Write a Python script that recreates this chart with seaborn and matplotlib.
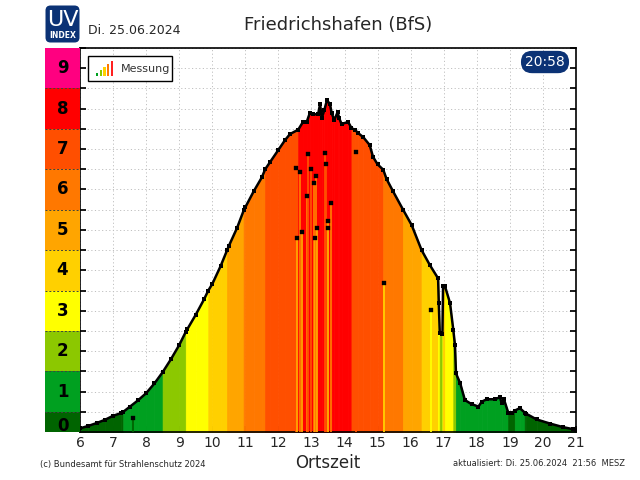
import numpy as np
import matplotlib
matplotlib.use("Agg")
import matplotlib.pyplot as plt
import seaborn as sns
from matplotlib.patches import FancyBboxPatch, Rectangle

# ---------------------------------------------------------------------------
# Daten
# ---------------------------------------------------------------------------
times = [6.0, 6.25, 6.5, 6.75, 7.0, 7.25, 7.31, 7.5, 7.75, 8.0, 8.25, 8.5, 8.75,
         9.0, 9.2, 9.25, 9.5, 9.75, 9.88, 10.0, 10.25, 10.45, 10.5, 10.75, 10.95,
         11.0, 11.25, 11.5, 11.6, 11.75, 12.0, 12.2, 12.35, 12.6, 12.75, 12.86,
         12.95, 13.05, 13.2, 13.26, 13.31, 13.39, 13.47, 13.56, 13.61, 13.69,
         13.79, 13.84, 13.91, 14.11, 14.21, 14.32, 14.42, 14.57, 14.76, 14.86,
         15.0, 15.17, 15.27, 15.47, 15.77, 16.03, 16.33, 16.58, 16.83, 16.85,
         16.88, 16.96, 16.98, 17.04, 17.19, 17.29, 17.34, 17.37, 17.5, 17.64,
         17.84, 18.05, 18.15, 18.3, 18.55, 18.7, 18.75, 18.82, 18.95, 19.05,
         19.15, 19.3, 19.45, 19.5, 19.81, 20.21, 20.61, 20.91, 21.0]
uv = [0.09, 0.15, 0.22, 0.30, 0.40, 0.47, 0.50, 0.62, 0.78, 0.96, 1.20, 1.48, 1.80,
      2.15, 2.48, 2.55, 2.90, 3.28, 3.50, 3.66, 4.10, 4.50, 4.60, 5.05, 5.48,
      5.56, 5.95, 6.30, 6.50, 6.68, 6.98, 7.22, 7.37, 7.48, 7.68, 7.68,
      7.89, 7.86, 7.86, 8.11, 7.76, 7.97, 8.21, 8.11, 7.89, 7.72,
      7.91, 7.76, 7.62, 7.67, 7.52, 7.47, 7.39, 7.29, 7.10, 6.81,
      6.62, 6.49, 6.26, 5.95, 5.50, 5.12, 4.50, 4.13, 3.80, 3.19,
      2.45, 2.42, 3.62, 3.60, 3.19, 2.52, 2.15, 1.45, 1.20, 0.79,
      0.69, 0.63, 0.75, 0.81, 0.81, 0.86, 0.72, 0.81, 0.48, 0.46,
      0.53, 0.59, 0.48, 0.45, 0.31, 0.21, 0.12, 0.07, 0.06]

# Einzelne Ausreisser (Messungen unterhalb der Kurve)
dip_times = [7.61, 12.53, 12.55, 12.65, 12.70, 12.88, 12.90, 12.99, 13.08, 13.11,
             13.14, 13.16, 13.41, 13.43, 13.49, 13.51, 13.58, 14.34, 15.18, 16.62]
dip_uv = [0.35, 6.53, 4.79, 6.43, 4.96, 5.84, 6.87, 6.51, 6.16, 4.79,
          6.34, 5.04, 6.90, 6.63, 5.23, 5.04, 5.66, 6.92, 3.68, 3.02]

uv_levels = list(range(10))
uv_colors = ["#006400", "#00a020", "#8cc800", "#ffff00", "#ffd000",
             "#ffa500", "#ff7800", "#ff4f00", "#ff0000", "#ff0080"]

hours = list(range(6, 22))
icon_heights = [1, 2, 3, 4, 5]
icon_colors = ["#00a020", "#8cc800", "#ffd000", "#ff7800", "#ff2020"]


def uv_color(value):
    k = int(np.clip(np.floor(value + 0.5), 0, 9))
    return uv_colors[k]


# ---------------------------------------------------------------------------
# Figur
# ---------------------------------------------------------------------------
sns.set_theme(style="white")
plt.rcParams["font.family"] = ["DejaVu Sans"]

fig = plt.figure(figsize=(6.4, 4.8), dpi=100)
ax = fig.add_axes([80 / 640, 48 / 480, 496 / 640, 384 / 480])
cax = fig.add_axes([45 / 640, 48 / 480, 35 / 640, 384 / 480])

# Farbige Flaeche unter der Kurve
t = np.array(times)
v = np.array(uv)
for i in range(len(t) - 1):
    col = uv_color((v[i] + v[i + 1]) / 2)
    ax.fill_between(t[i:i + 2], 0, v[i:i + 2], color=col, lw=0.6, edgecolor=col, zorder=2)

# Ausreisser
ax.vlines(dip_times, 0, dip_uv, colors=[uv_color(d) for d in dip_uv], lw=1.3, zorder=3)
sns.scatterplot(x=dip_times, y=dip_uv, marker="s", color="black", s=9,
                edgecolor=None, ax=ax, zorder=5)

# Messkurve
sns.lineplot(x=times, y=uv, color="black", lw=1.8, marker="s", markersize=3,
             markeredgewidth=0, sort=False, ax=ax, zorder=6)

ax.set_xlim(6, 21)
ax.set_ylim(0, 9.5)
ax.set_xticks(hours)
ax.set_xticklabels([str(h) for h in hours], fontsize=10)
ax.set_yticks(np.arange(0, 9.51, 0.5))
ax.set_yticklabels([])
ax.set_axisbelow(True)
ax.grid(True, color="#c0c0c0", linestyle=(0, (1.2, 2.5)), lw=0.7, zorder=0)
ax.tick_params(axis="both", direction="in", length=4, color="black",
               right=True, left=True, bottom=True, pad=3)
for s in ax.spines.values():
    s.set_color("black")
    s.set_linewidth(1.2)
ax.set_xlabel("Ortszeit", fontsize=12, labelpad=3)
ax.set_ylabel("")

# Farbskala links
bottoms = [0] + [k - 0.5 for k in uv_levels[1:]]
heights = [0.5] + [1.0] * (len(uv_levels) - 1)
cax.bar([0] * len(uv_levels), heights, bottom=bottoms, width=1, color=uv_colors, lw=0)
for k in uv_levels[1:]:
    cax.axhline(k - 0.5, color="#404040", lw=0.7, ls=(0, (2, 2)))
for k in uv_levels:
    cax.text(0, k if k > 0 else 0.15, str(k), ha="center", va="center",
             fontsize=12, fontweight="bold", color="black")
cax.set_xlim(-0.5, 0.5)
cax.set_ylim(0, 9.5)
cax.axis("off")

# Legende "Messung"
ax.add_patch(Rectangle((0.0161, 0.914), 0.1694, 0.065, transform=ax.transAxes,
                       fc="white", ec="black", lw=1, zorder=8))
ax.text(0.083, 0.9465, "Messung", transform=ax.transAxes, fontsize=8,
        va="center", ha="left", color="#333333", zorder=9)
iax = fig.add_axes([95 / 640, 1 - 76 / 480, 19 / 640, 15 / 480])
iax.bar(range(len(icon_heights)), icon_heights, width=0.6, color=icon_colors, lw=0)
iax.set_xlim(-0.5, len(icon_heights) - 0.5)
iax.set_ylim(0, max(icon_heights))
iax.axis("off")

# Uhrzeit-Badge
ax.text(0.9375, 0.9635, "20:58", transform=ax.transAxes, fontsize=10,
        color="white", ha="center", va="center", zorder=9,
        bbox=dict(boxstyle="round,pad=0.3,rounding_size=0.8", fc="#0b3275", ec="none"))

# UV-Index Logo
lax = fig.add_axes([45 / 640, 1 - 43 / 480, 35 / 640, 38 / 480])
lax.set_xlim(0, 35)
lax.set_ylim(0, 38)
lax.add_patch(FancyBboxPatch((0.5, 0.5), 34, 37, boxstyle="round,pad=0,rounding_size=5",
                             fc="#0b3275", ec="none"))
lax.text(17.5, 23, "UV", color="white", fontsize=16, ha="center", va="center")
lax.text(17.5, 7, "INDEX", color="white", fontsize=5.5, fontweight="bold",
         ha="center", va="center")
lax.axis("off")

# Texte
fig.text(338 / 640, 1 - 25 / 480, "Friedrichshafen (BfS)", fontsize=13,
         ha="center", va="center")
fig.text(88 / 640, 1 - 31 / 480, "Di. 25.06.2024", fontsize=9, ha="left", va="center")
fig.text(40 / 640, 1 - 464 / 480, "(c) Bundesamt für Strahlenschutz 2024",
         fontsize=6, ha="left", va="center")
fig.text(625 / 640, 1 - 464 / 480, "aktualisiert: Di. 25.06.2024  21:56  MESZ",
         fontsize=6, ha="right", va="center")

fig.savefig("out.png", dpi=100)
